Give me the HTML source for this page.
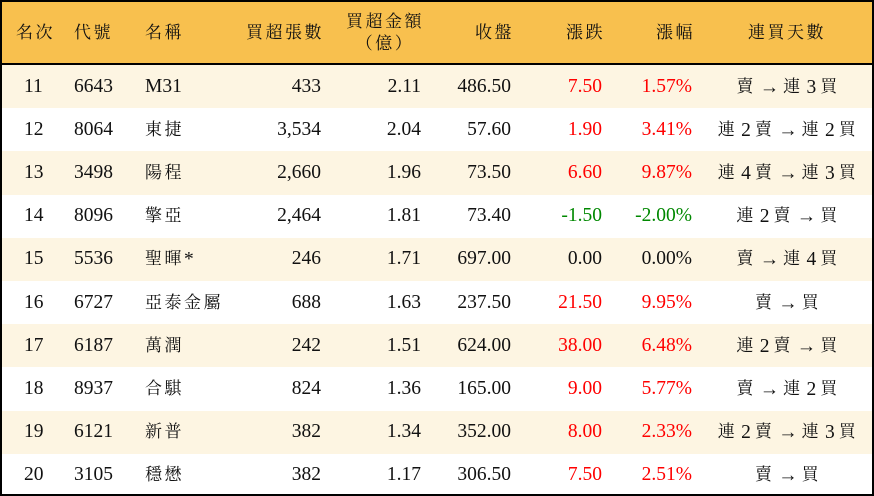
<!DOCTYPE html><html><head><meta charset="utf-8"><style>
body{margin:0;width:874px;height:496px;overflow:hidden;background:#fff;font-family:"Liberation Serif","Noto Serif CJK SC","Noto Serif CJK TC",serif;font-size:19.5px;color:#111}
.w{position:absolute;left:0;top:0;width:870px;height:492px;border:2px solid #000;overflow:hidden}
.hd{position:absolute;left:0;top:0;width:870px;height:61px;background:#f8c04e;border-bottom:2px solid #000}
.r{position:absolute;left:0;width:870px;height:43.2px}
.c{position:absolute;top:50%;transform:translateY(-50%);white-space:nowrap;line-height:22px}
.k{font-family:"Noto Serif CJK SC","Noto Serif CJK TC",serif;font-size:17px;letter-spacing:2.5px;position:relative;top:-1px}
.red{color:#f00}.grn{color:#080}
</style></head><body><div class="w">
<div class="hd" id="hd"></div>
<div id="rows"></div>
</div>
<script>
function k(s){return s.replace(/([\u3000-\u9fff\uff00-\uffef]+)/g,'<span class="k">$1</span>');}
document.getElementById("hd").innerHTML=
'<div class="c" style="left:14px">'+k("名次")+'</div>'+
'<div class="c" style="left:72px">'+k("代號")+'</div>'+
'<div class="c" style="left:143px">'+k("名稱")+'</div>'+
'<div class="c" style="right:548px">'+k("買超張數")+'</div>'+
'<div class="c" style="right:448px;text-align:center;line-height:20px">'+k("買超金額")+'<br>'+k("（億）")+'</div>'+
'<div class="c" style="right:358px">'+k("收盤")+'</div>'+
'<div class="c" style="right:267px">'+k("漲跌")+'</div>'+
'<div class="c" style="right:177px">'+k("漲幅")+'</div>'+
'<div class="c" style="left:746px">'+k("連買天數")+'</div>';
var d=[["11","6643","M31","433","2.11","486.50","7.50","1.57%","賣 → 連 3 買","red"],
["12","8064","東捷","3,534","2.04","57.60","1.90","3.41%","連 2 賣 → 連 2 買","red"],
["13","3498","陽程","2,660","1.96","73.50","6.60","9.87%","連 4 賣 → 連 3 買","red"],
["14","8096","擎亞","2,464","1.81","73.40","-1.50","-2.00%","連 2 賣 → 買","grn"],
["15","5536","聖暉*","246","1.71","697.00","0.00","0.00%","賣 → 連 4 買",""],
["16","6727","亞泰金屬","688","1.63","237.50","21.50","9.95%","賣 → 買","red"],
["17","6187","萬潤","242","1.51","624.00","38.00","6.48%","連 2 賣 → 買","red"],
["18","8937","合騏","824","1.36","165.00","9.00","5.77%","賣 → 連 2 買","red"],
["19","6121","新普","382","1.34","352.00","8.00","2.33%","連 2 賣 → 連 3 買","red"],
["20","3105","穩懋","382","1.17","306.50","7.50","2.51%","賣 → 買","red"]];
var h="";d.forEach(function(r,i){h+='<div class="r" style="top:'+(63+i*43.2)+'px;background:'+(i%2?'#fff':'#fdf5e2')+'">'+
'<div class="c" style="left:22px">'+r[0]+'</div><div class="c" style="left:72px">'+r[1]+'</div><div class="c" style="left:143px">'+k(r[2])+'</div>'+
'<div class="c" style="right:551px">'+r[3]+'</div><div class="c" style="right:451px">'+r[4]+'</div><div class="c" style="right:361px">'+r[5]+'</div>'+
'<div class="c '+r[9]+'" style="right:270px">'+r[6]+'</div><div class="c '+r[9]+'" style="right:180px">'+r[7]+'</div>'+
'<div class="c" style="left:786px;transform:translate(-50%,-50%)">'+k(r[8].replace(/ /g,'\u2009'))+'</div></div>';});
document.getElementById("rows").innerHTML=h;
</script></body></html>
